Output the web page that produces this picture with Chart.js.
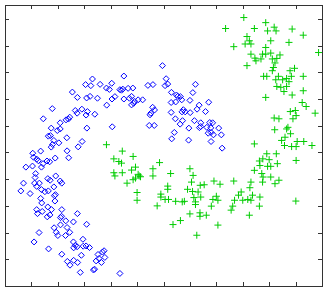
<!DOCTYPE html>
<html>
<head>
<meta charset="utf-8">
<script src="https://cdn.jsdelivr.net/npm/chart.js@4/dist/chart.umd.min.js"></script>
<style>
  html, body { margin: 0; padding: 0; background: #fff; }
  #wrap { width: 327px; height: 291px; position: relative; }
</style>
</head>
<body>
<div id="wrap"><canvas id="moonChart"></canvas></div>
<script>
// class 1 (blue diamonds)
var blueX = [3.31,3.05,3.25,3.60,3.84,4.04,3.95,4.35,4.41,4.46,4.50,2.55,2.74,3.09,3.22,3.50,4.16,4.05,3.85,1.79,
  2.66,2.91,2.73,3.12,3.40,3.07,1.45,2.31,2.40,2.09,2.45,4.06,3.10,1.75,1.98,2.09,1.64,1.72,2.34,1.85,
  2.92,2.77,1.80,1.75,2.04,1.35,2.35,1.05,1.08,1.20,1.26,1.59,1.90,2.41,1.44,1.38,0.79,1.04,1.69,
  1.16,1.14,1.62,1.71,1.92,2.09,2.15,0.70,1.12,1.20,1.30,1.85,1.38,1.51,1.64,0.60,0.95,1.91,1.87,1.35,
  1.89,1.39,1.62,1.76,1.20,1.41,1.23,1.60,1.70,2.15,2.14,2.10,2.74,2.30,2.59,3.09,2.10,2.35,1.86,2.45,
  1.94,2.00,1.29,2.29,1.10,2.59,2.95,2.66,2.60,2.73,2.96,3.07,3.20,1.65,2.15,2.89,3.75,3.69,3.52,3.78,
  3.56,3.45,2.36,2.60,2.75,2.46,3.65,3.35,3.39,2.85,4.35,
  4.50,4.66,4.84,4.79,4.71,4.91,5.04,5.21,4.79,4.87,5.41,5.60,6.10,6.16,6.06,6.30,6.54,6.49,6.64,6.69,
  6.46,6.29,7.00,7.11,7.21,5.59,5.66,5.52,5.49,6.29,6.75,6.82,6.70,7.01,7.27,7.35,7.71,7.59,6.45,6.72,
  7.17,7.41,7.75,7.86,6.63,5.46,5.65,6.96,7.36,7.41,7.64,7.79,8.09,6.41,7.69,7.80,7.89,8.19,6.31,6.95,
  7.80,8.22,5.96];
var blueY = [7.75,7.54,7.50,7.55,7.41,7.59,7.36,7.35,7.33,7.37,7.86,7.26,7.06,7.04,7.10,7.03,7.09,7.00,6.77,6.64,
  6.57,6.62,6.47,6.53,6.43,6.40,6.26,6.22,6.25,6.11,6.32,5.96,5.91,5.91,5.82,5.88,5.61,5.63,5.55,5.45,
  5.41,5.21,5.30,5.20,5.36,5.05,5.06,4.97,4.82,4.75,4.69,4.68,4.79,4.80,4.58,4.45,4.45,4.49,4.65,
  4.21,4.06,4.02,3.96,4.12,3.93,3.85,3.85,3.85,3.73,3.85,3.71,3.61,3.53,3.56,3.56,3.46,3.42,3.38,3.28,
  3.18,3.11,2.96,2.86,2.86,2.79,2.71,2.59,2.66,2.86,2.61,2.56,2.71,2.44,2.40,2.31,2.29,2.19,2.18,2.01,
  2.01,1.89,2.00,1.89,1.65,1.65,1.75,1.52,1.43,1.47,1.49,1.50,1.44,1.39,1.19,1.15,1.32,1.27,1.18,1.07,
  1.03,0.94,0.92,0.96,0.88,0.78,0.88,0.60,0.63,0.51,0.47,
  7.00,7.40,7.41,7.10,7.03,6.91,6.97,6.97,6.78,6.84,7.51,7.54,7.76,7.56,7.50,7.25,7.10,7.15,7.09,6.97,
  6.89,6.87,6.95,7.24,7.55,6.69,6.59,6.47,6.41,6.50,6.60,6.52,6.52,6.49,6.62,6.77,6.88,6.53,6.26,6.19,
  6.19,6.11,6.12,6.11,6.06,6.01,6.01,5.91,5.93,5.97,5.94,5.92,5.91,5.75,5.72,5.75,5.66,5.66,5.51,5.46,
  5.41,5.16,8.25];

// class 2 (green crosses)
var greenX = [9.04,8.35,9.87,9.44,9.94,10.26,10.19,10.87,11.29,9.16,9.25,9.09,9.31,8.66,10.06,9.87,10.75,9.31,9.46,9.50,
  9.75,9.87,10.06,10.41,9.69,10.12,10.22,10.29,9.16,10.16,11.87,10.12,9.79,9.91,10.35,10.79,10.96,11.29,10.25,10.51,
  10.66,10.84,10.75,10.29,10.44,10.66,10.56,11.29,9.87,10.87,11.25,11.40,10.80,10.99,11.02,11.74,10.19,10.37,10.90,10.71,
  10.66,10.21,10.81,10.60,10.47,11.06,11.31,10.58,10.85,11.02,11.62,9.44,10.27,9.91,9.76,10.00,9.63,11.02,10.31,9.94,
  10.06,9.65,9.44,9.72,9.77,10.06,10.37,10.22,9.31,9.27,9.75,8.66,7.91,8.94,8.84,9.37,9.65,9.19,8.00,8.06,
  7.87,8.69,9.00,9.31,11.01,7.81,8.62,8.56,9.63,9.25,7.41,8.06,8.14,
  3.84,4.44,4.85,4.12,4.31,4.41,5.85,4.94,4.79,5.60,4.12,4.44,4.16,5.04,5.13,4.94,4.85,4.62,5.60,6.27,
  7.00,7.12,7.06,7.39,7.54,6.91,6.16,6.16,5.00,5.00,5.90,5.90,6.06,6.19,6.46,6.71,6.79,7.15,7.21,7.10,
  7.31,5.76,7.21,7.00,7.38,7.38,7.62,6.64,6.36,7.26,5.08];
var greenY = [10.05,9.64,9.86,9.64,9.55,9.55,9.69,9.62,9.39,9.34,9.18,9.06,9.06,8.96,9.18,8.93,9.12,8.68,8.53,8.43,
  8.68,8.68,8.72,8.65,8.50,8.50,8.35,8.52,8.25,8.18,8.74,8.06,7.85,7.85,7.85,8.06,8.15,7.85,7.72,7.72,
  7.77,7.85,7.65,7.47,7.44,7.47,7.28,7.31,7.06,7.15,6.87,6.72,6.53,6.57,6.38,6.47,6.29,6.26,6.26,5.94,
  5.88,5.85,5.70,5.57,5.45,5.41,5.41,5.26,5.22,5.22,5.26,5.32,4.95,4.95,4.76,4.73,4.68,4.70,4.58,4.48,
  4.48,4.51,4.33,4.21,4.08,4.08,3.96,3.83,3.89,3.68,3.89,3.93,3.93,3.52,3.40,3.40,3.33,3.24,3.36,3.21,
  3.24,3.21,3.21,3.21,3.18,2.99,2.99,2.84,2.99,2.65,3.33,2.28,3.81,
  5.29,5.05,4.85,4.76,4.66,4.60,4.62,4.45,4.34,4.39,4.24,4.24,4.12,4.18,4.09,4.04,3.98,3.85,4.12,4.21,
  4.39,4.14,3.89,3.77,3.79,3.62,3.74,3.62,3.50,3.21,3.44,3.33,3.24,3.24,3.17,3.15,3.17,3.31,3.15,3.54,
  3.52,3.00,3.05,2.70,2.74,2.61,2.65,2.45,2.30,1.90,4.12];

var xTicks = [0,1,2,3,4,5,6,7,8,9,10,11,12];
var yTicks = [0,1,2,3,4,5,6,7,8,9,10];

function toPoints(xs, ys) {
  return xs.map(function (x, i) {
    return { x: x, y: ys[i] };
  });
}

// box with inward ticks on all four sides
var boxPlugin = {
  id: "box",
  afterDraw: function (chart) {
    var ctx = chart.ctx;
    var a = chart.chartArea;
    var sx = chart.scales.x;
    var sy = chart.scales.y;
    var len = 4;
    ctx.save();
    ctx.strokeStyle = "#333";
    ctx.lineWidth = 1;
    ctx.strokeRect(Math.round(a.left) + 0.5, Math.round(a.top) + 0.5,
      Math.round(a.right - a.left), Math.round(a.bottom - a.top));
    ctx.beginPath();
    xTicks.forEach(function (v) {
      var px = Math.round(sx.getPixelForValue(v)) + 0.5;
      ctx.moveTo(px, a.bottom);
      ctx.lineTo(px, a.bottom - len);
      ctx.moveTo(px, a.top);
      ctx.lineTo(px, a.top + len);
    });
    yTicks.forEach(function (v) {
      var py = Math.round(sy.getPixelForValue(v)) + 0.5;
      ctx.moveTo(a.left, py);
      ctx.lineTo(a.left + len, py);
      ctx.moveTo(a.right, py);
      ctx.lineTo(a.right - len, py);
    });
    ctx.stroke();
    ctx.restore();
  },
};

var ctx = document.getElementById("moonChart").getContext("2d");
var moonChart = new Chart(ctx, {
  type: "scatter",
  data: {
    datasets: [
      {
        label: "class 1",
        data: toPoints(blueX, blueY),
        pointStyle: "rectRot",
        pointRadius: 3,
        borderColor: "#0000ff",
        backgroundColor: "rgba(0,0,0,0)",
        borderWidth: 1,
      },
      {
        label: "class 2",
        data: toPoints(greenX, greenY),
        pointStyle: "cross",
        pointRadius: 3.5,
        borderColor: "#00cc00",
        backgroundColor: "#00cc00",
        borderWidth: 1,
      },
    ],
  },
  options: {
    responsive: true,
    maintainAspectRatio: false,
    animation: false,
    layout: { padding: { left: 4, top: 3, right: 2, bottom: 4 } },
    plugins: { legend: { display: false }, tooltip: { enabled: false } },
    scales: {
      x: { type: "linear", min: 0, max: 12, display: false },
      y: { type: "linear", min: 0, max: 10.52, display: false },
    },
  },
  plugins: [boxPlugin],
});
</script>
</body>
</html>
